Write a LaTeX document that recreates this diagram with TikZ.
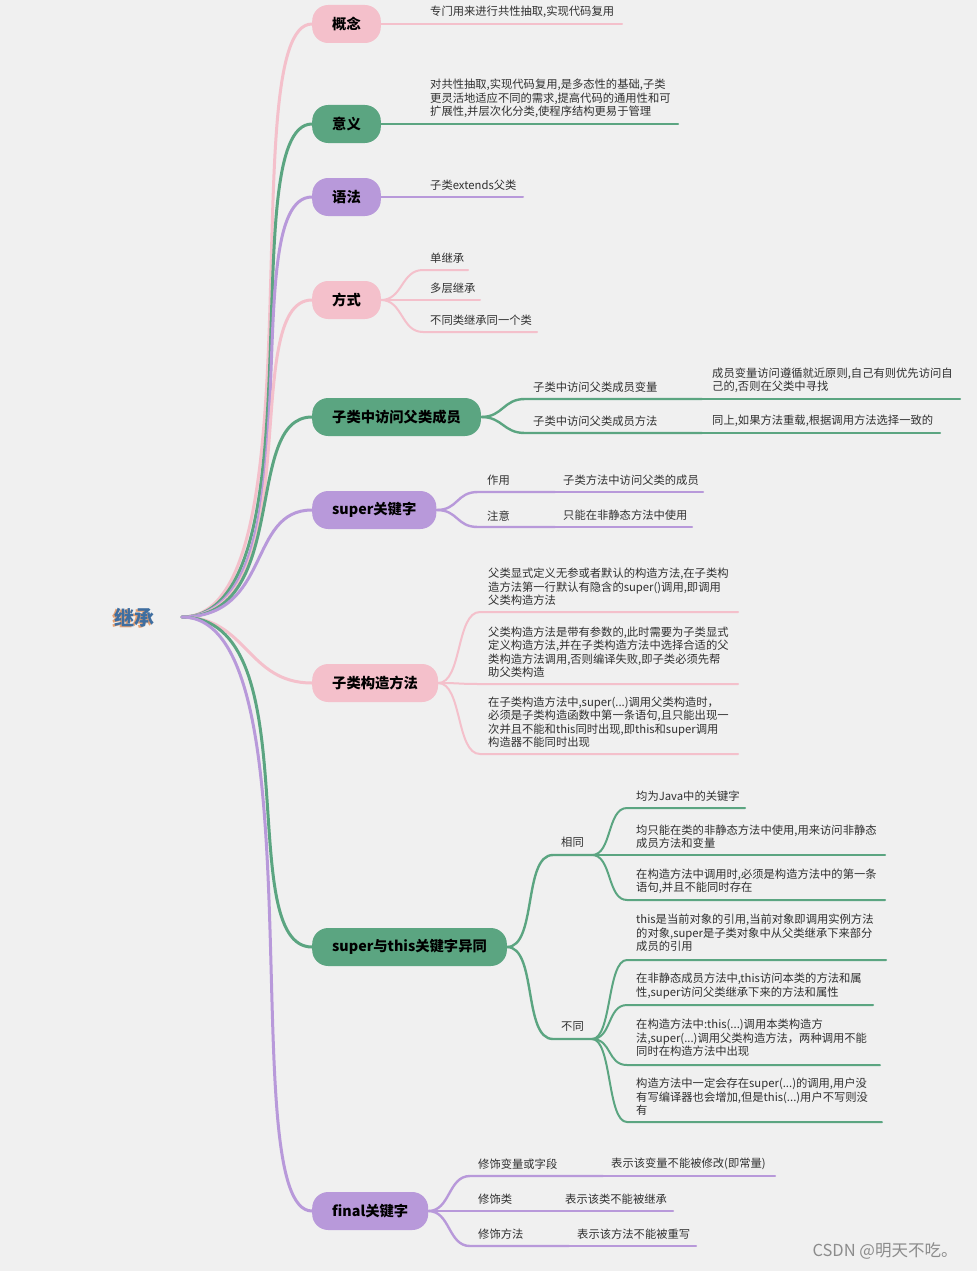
\documentclass[tikz,border=0pt]{standalone}
\usepackage{fontspec}
\setmainfont{Noto Sans CJK SC}
\definecolor{bgc}{HTML}{F0F0F0}
\definecolor{pinkc}{HTML}{F4C0CB}
\definecolor{greenc}{HTML}{5BA581}
\definecolor{purplec}{HTML}{B899DA}
\definecolor{txtc}{HTML}{303030}
\definecolor{rootc}{HTML}{3F6EA0}
\definecolor{rootsh}{HTML}{E8A070}
\definecolor{wmc}{HTML}{8C8C8C}
\tikzset{
  pill/.style={rounded corners=16pt, minimum height=38pt, inner xsep=20pt, inner ysep=0pt,
    font=\fontsize{14.3}{16}\selectfont\bfseries, text=black, anchor=west},
  leaf/.style={anchor=south west, inner sep=0pt, align=left,
    font=\fontsize{11.3}{13.6}\selectfont, text=txtc},
  mainc/.style={line width=3pt, line cap=round},
  brc/.style={line width=2.4pt, line cap=round},
  lfc/.style={line width=2pt, line cap=round},
}
\begin{document}
\begin{tikzpicture}[x=1pt,y=-1pt]
\fill[bgc] (0,0) rectangle (977,1271);
\useasboundingbox (0,0) rectangle (977,1271);

% root
\node[font=\fontsize{20}{22}\selectfont\bfseries, text=rootsh] (jcs) at (132.8,619.2) {继承};
\node[font=\fontsize{20}{22}\selectfont\bfseries, text=rootc] (jc) at (134,618) {继承};
\coordinate (root) at (182,617);

% main nodes
\node[pill, fill=pinkc] (gn) at (312,24) {概念};
\node[pill, fill=greenc] (yy) at (312,124) {意义};
\node[pill, fill=purplec] (yf) at (312,197) {语法};
\node[pill, fill=pinkc] (fs) at (312,300) {方式};
\node[pill, fill=greenc] (fw) at (312,417) {子类中访问父类成员};
\node[pill, fill=purplec] (sp) at (312,510) {super关键字};
\node[pill, fill=pinkc] (gz) at (312,683) {子类构造方法};
\node[pill, fill=greenc] (st) at (312,947) {super与this关键字异同};
\node[pill, fill=purplec] (fn) at (312,1211) {final关键字};

% main connectors
\foreach \n/\c/\a/\b in {gn/pinkc/140/80, yy/greenc/140/80, yf/purplec/140/80, fs/pinkc/130/75,
    fw/greenc/110/70, sp/purplec/90/65, gz/pinkc/65/65, st/greenc/130/80, fn/purplec/140/80}
  \draw[mainc, \c] (root) .. controls +(\a,0) and +(-\b,0) .. (\n.west);

% 概念
\node[leaf] (gn1) at (430,18) {专门用来进行共性抽取,实现代码复用};
\coordinate (gn1e) at (622,24);
\draw[lfc, pinkc] (gn.east) -- (gn1e);

% 意义
\node[leaf] (yy1) at (430,118) {对共性抽取,实现代码复用,是多态性的基础,子类\\更灵活地适应不同的需求,提高代码的通用性和可\\扩展性,并层次化分类,使程序结构更易于管理};
\coordinate (yy1e) at (678,124);
\draw[lfc, greenc] (yy.east) -- (yy1e);

% 语法
\node[leaf] (yf1) at (430,191) {子类extends父类};
\coordinate (yf1e) at (523,197);
\draw[lfc, purplec] (yf.east) -- (yf1e);

% 方式
\node[leaf] (fs1) at (430,264) {单继承};
\node[leaf] (fs2) at (430,294) {多层继承};
\node[leaf] (fs3) at (430,326) {不同类继承同一个类};
\coordinate (fs1s) at (423,270); \coordinate (fs1e) at (468,270);
\coordinate (fs2e) at (480,300);
\coordinate (fs3s) at (423,332); \coordinate (fs3e) at (537,332);
\draw[lfc, pinkc] (fs.east) .. controls +(22,0) and +(-22,0) .. (fs1s) -- (fs1e);
\draw[lfc, pinkc] (fs.east) -- (fs2e);
\draw[lfc, pinkc] (fs.east) .. controls +(22,0) and +(-22,0) .. (fs3s) -- (fs3e);

% 子类中访问父类成员
\node[leaf] (fw1) at (533,393) {子类中访问父类成员变量};
\node[leaf] (fw1a) at (712,393) {成员变量访问遵循就近原则,自己有则优先访问自\\己的,否则在父类中寻找};
\node[leaf] (fw2) at (533,427) {子类中访问父类成员方法};
\node[leaf] (fw2a) at (712,427) {同上,如果方法重载,根据调用方法选择一致的};
\coordinate (fw1s) at (525,399); \coordinate (fw1m) at (702,399); \coordinate (fw1e) at (960,399);
\coordinate (fw2s) at (525,433); \coordinate (fw2m) at (702,433); \coordinate (fw2e) at (940,433);
\draw[brc, greenc] (fw.east) .. controls +(22,0) and +(-22,0) .. (fw1s) -- (fw1m);
\draw[lfc, greenc] (fw1m) -- (fw1e);
\draw[brc, greenc] (fw.east) .. controls +(22,0) and +(-22,0) .. (fw2s) -- (fw2m);
\draw[lfc, greenc] (fw2m) -- (fw2e);

% super关键字
\node[leaf] (sp1) at (487,486) {作用};
\node[leaf] (sp1a) at (563,486) {子类方法中访问父类的成员};
\node[leaf] (sp2) at (487,521) {注意};
\node[leaf] (sp2a) at (563,521) {只能在非静态方法中使用};
\coordinate (sp1s) at (478,492); \coordinate (sp1m) at (555,492); \coordinate (sp1e) at (703,492);
\coordinate (sp2s) at (478,527); \coordinate (sp2m) at (555,527); \coordinate (sp2e) at (692,527);
\draw[brc, purplec] (sp.east) .. controls +(22,0) and +(-22,0) .. (sp1s) -- (sp1m);
\draw[lfc, purplec] (sp1m) -- (sp1e);
\draw[brc, purplec] (sp.east) .. controls +(22,0) and +(-22,0) .. (sp2s) -- (sp2m);
\draw[lfc, purplec] (sp2m) -- (sp2e);

% 子类构造方法
\node[leaf] (gz1) at (488,606) {父类显式定义无参或者默认的构造方法,在子类构\\造方法第一行默认有隐含的super()调用,即调用\\父类构造方法};
\node[leaf] (gz2) at (488,678) {父类构造方法是带有参数的,此时需要为子类显式\\定义构造方法,并在子类构造方法中选择合适的父\\类构造方法调用,否则编译失败,即子类必须先帮\\助父类构造};
\node[leaf] (gz3) at (488,748) {在子类构造方法中,super(...)调用父类构造时，\\必须是子类构造函数中第一条语句,且只能出现一\\次并且不能和this同时出现,即this和super调用\\构造器不能同时出现};
\coordinate (gz1s) at (480,612); \coordinate (gz1e) at (738,612);
\coordinate (gz2s) at (480,684); \coordinate (gz2e) at (738,684);
\coordinate (gz3s) at (480,754); \coordinate (gz3e) at (738,754);
\draw[lfc, pinkc] (gz.east) .. controls +(24,0) and +(-24,0) .. (gz1s) -- (gz1e);
\draw[lfc, pinkc] (gz.east) .. controls +(24,0) and +(-24,0) .. (gz2s) -- (gz2e);
\draw[lfc, pinkc] (gz.east) .. controls +(24,0) and +(-24,0) .. (gz3s) -- (gz3e);

% super与this关键字异同
\node[leaf] (xt) at (561,848) {相同};
\node[leaf] (bt) at (561,1032) {不同};
\coordinate (xts) at (553,855); \coordinate (xtp) at (592,855);
\coordinate (bts) at (553,1039); \coordinate (btp) at (592,1039);
\draw[brc, greenc] (st.east) .. controls +(30,0) and +(-30,0) .. (xts) -- (xtp);
\draw[brc, greenc] (st.east) .. controls +(30,0) and +(-30,0) .. (bts) -- (btp);

\node[leaf] (xt1) at (636,802) {均为Java中的关键字};
\node[leaf] (xt2) at (636,849) {均只能在类的非静态方法中使用,用来访问非静态\\成员方法和变量};
\node[leaf] (xt3) at (636,894) {在构造方法中调用时,必须是构造方法中的第一条\\语句,并且不能同时存在};
\coordinate (xt1s) at (627,808); \coordinate (xt1e) at (745,808);
\coordinate (xt2e) at (885,855);
\coordinate (xt3s) at (627,900); \coordinate (xt3e) at (885,900);
\draw[lfc, greenc] (xtp) .. controls +(20,0) and +(-20,0) .. (xt1s) -- (xt1e);
\draw[lfc, greenc] (xtp) -- (xt2e);
\draw[lfc, greenc] (xtp) .. controls +(20,0) and +(-20,0) .. (xt3s) -- (xt3e);

\node[leaf] (bt1) at (636,952) {this是当前对象的引用,当前对象即调用实例方法\\的对象,super是子类对象中从父类继承下来部分\\成员的引用};
\node[leaf] (bt2) at (636,999) {在非静态成员方法中,this访问本类的方法和属\\性,super访问父类继承下来的方法和属性};
\node[leaf] (bt3) at (636,1057) {在构造方法中:this(...)调用本类构造方\\法,super(...)调用父类构造方法，两种调用不能\\同时在构造方法中出现};
\node[leaf] (bt4) at (636,1116) {构造方法中一定会存在super(...)的调用,用户没\\有写编译器也会增加,但是this(...)用户不写则没\\有};
\coordinate (bt1s) at (627,960); \coordinate (bt1e) at (886,960);
\coordinate (bt2s) at (627,1005); \coordinate (bt2e) at (873,1005);
\coordinate (bt3s) at (627,1065); \coordinate (bt3e) at (880,1065);
\coordinate (bt4s) at (627,1122); \coordinate (bt4e) at (882,1122);
\draw[lfc, greenc] (btp) .. controls +(20,0) and +(-20,0) .. (bt1s) -- (bt1e);
\draw[lfc, greenc] (btp) .. controls +(20,0) and +(-20,0) .. (bt2s) -- (bt2e);
\draw[lfc, greenc] (btp) .. controls +(20,0) and +(-20,0) .. (bt3s) -- (bt3e);
\draw[lfc, greenc] (btp) .. controls +(20,0) and +(-20,0) .. (bt4s) -- (bt4e);

% final关键字
\node[leaf] (fn1) at (478,1170) {修饰变量或字段};
\node[leaf] (fn1a) at (611,1170) {表示该变量不能被修改(即常量)};
\node[leaf] (fn2) at (478,1205) {修饰类};
\node[leaf] (fn2a) at (565,1205) {表示该类不能被继承};
\node[leaf] (fn3) at (478,1240) {修饰方法};
\node[leaf] (fn3a) at (577,1240) {表示该方法不能被重写};
\coordinate (fn1s) at (470,1176); \coordinate (fn1m) at (603,1176); \coordinate (fn1e) at (775,1176);
\coordinate (fn2m) at (557,1211); \coordinate (fn2e) at (673,1211);
\coordinate (fn3s) at (470,1246); \coordinate (fn3m) at (569,1246); \coordinate (fn3e) at (696,1246);
\draw[brc, purplec] (fn.east) .. controls +(22,0) and +(-22,0) .. (fn1s) -- (fn1m);
\draw[lfc, purplec] (fn1m) -- (fn1e);
\draw[brc, purplec] (fn.east) -- (fn2m);
\draw[lfc, purplec] (fn2m) -- (fn2e);
\draw[brc, purplec] (fn.east) .. controls +(22,0) and +(-22,0) .. (fn3s) -- (fn3m);
\draw[lfc, purplec] (fn3m) -- (fn3e);

% watermark
\node[font=\fontsize{16.5}{18}\selectfont, text=wmc] (wm) at (885,1251) {CSDN @明天不吃。};
\end{tikzpicture}
\end{document}
